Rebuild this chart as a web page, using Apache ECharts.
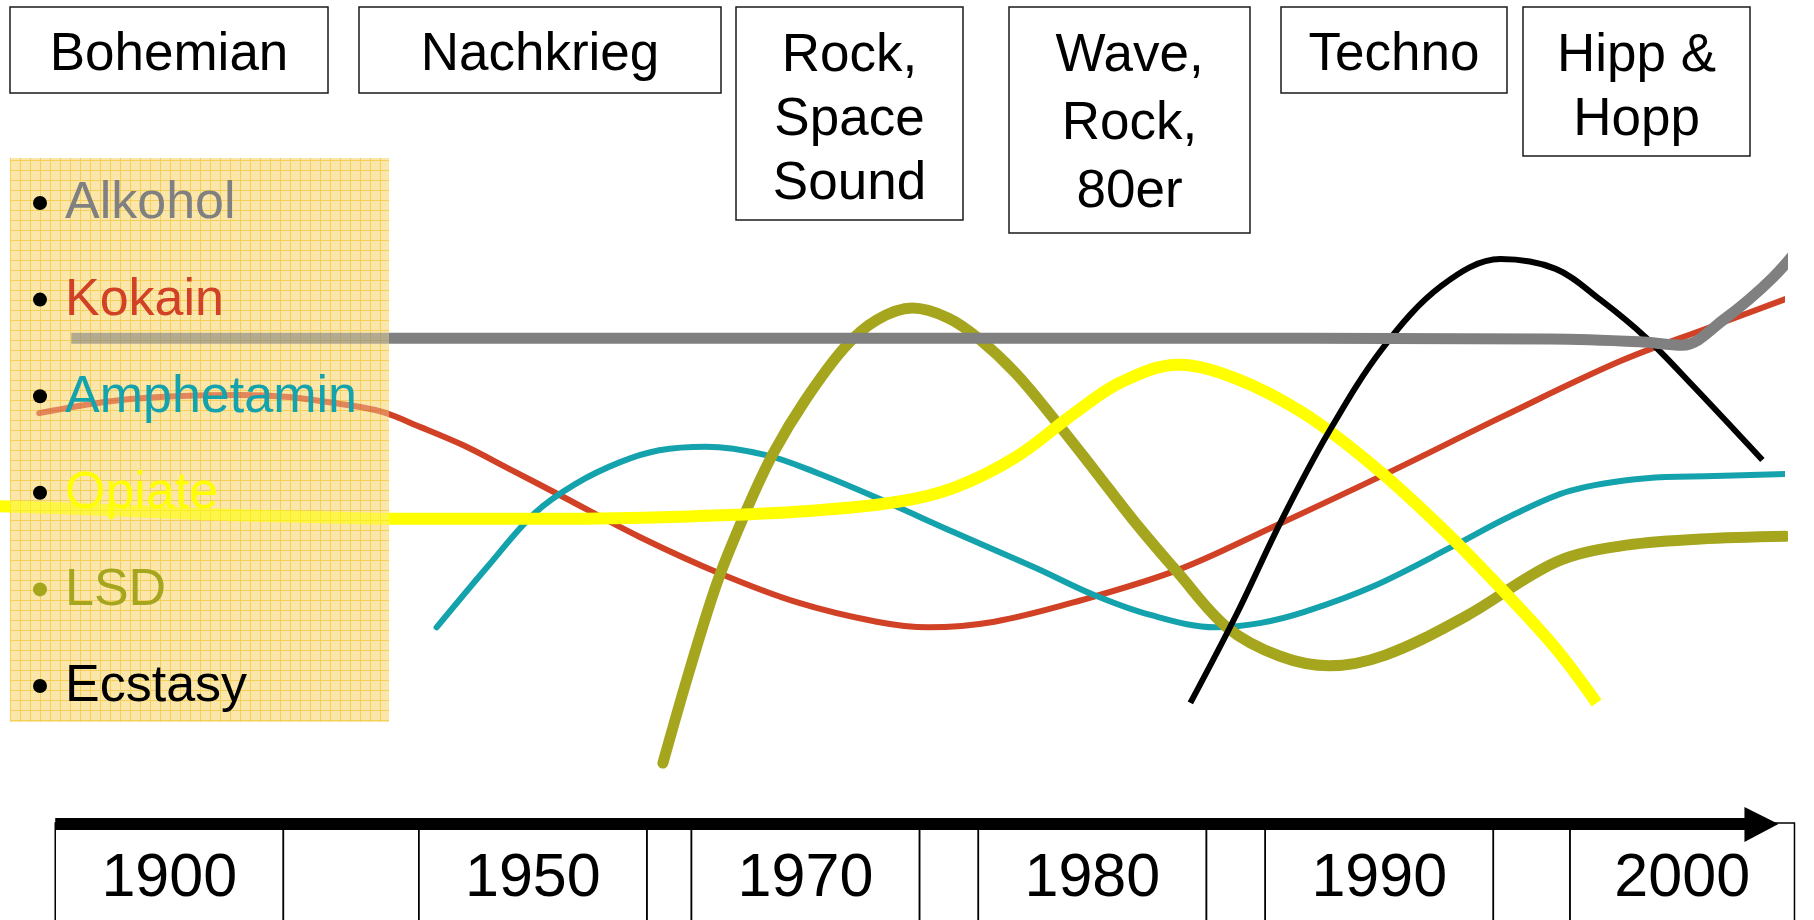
<!DOCTYPE html>
<html>
<head>
<meta charset="utf-8">
<script src="https://cdn.jsdelivr.net/npm/echarts@6.0.0/dist/echarts.min.js"></script>
<style>
  html, body { margin: 0; padding: 0; background: #fff; }
  #main { width: 1814px; height: 920px; }
</style>
</head>
<body>
<div id="main"></div>
<script>
'use strict'

// x: Position auf dem Zeitstrahl (0..100), y: Verbreitung (0..100)
const eras = ['Bohemian', 'Nachkrieg', 'Rock,\nSpace\nSound', 'Wave,\nRock,\n80er', 'Techno', 'Hipp &\nHopp'];
const drugs = ['Alkohol', 'Kokain', 'Amphetamin', 'Opiate', 'LSD', 'Ecstasy'];
const yearLabels = ['1900', '', '1950', '', '1970', '', '1980', '', '1990', '', '2000'];
const timelineEdges = [3.1, 15.9, 23.5, 36.3, 38.8, 51.6, 54.9, 67.7, 71.0, 83.8, 88.1, 100.7];
const timelineArrow = [3.1, 99.8];

const alkohol = [[4.0, 69.4], [30, 69.4], [60, 69.4], [87.0, 69.3], [92.0, 68.9], [94.4, 68.4],
    [96.7, 72.0], [99.5, 78.1], [101.5, 84.1]];
const kokain = [[2.2, 58.7], [6.2, 60.4], [9.8, 61.1], [13.5, 61.3], [16.2, 61.0], [19.1, 60.0],
    [21.4, 58.9], [23.6, 56.7], [26.0, 54.1], [28.6, 50.7], [31.4, 47.0], [35.9, 41.0],
    [40.3, 35.9], [44.7, 31.7], [49.2, 28.9], [52.1, 28.1], [55.8, 28.9], [60.3, 31.7],
    [66.1, 36.3], [71.4, 42.4], [78.0, 50.3], [84.4, 58.3], [90.9, 66.1], [96.0, 71.0], [100.3, 75.1]];
const amphetamin = [[24.5, 28.1], [27.4, 36.9], [30.0, 44.4], [32.3, 48.6], [34.8, 51.7], [37.0, 53.4],
    [39.6, 53.9], [43.0, 52.7], [45.9, 50.1], [49.2, 46.6], [53.6, 41.6], [58.1, 36.6],
    [61.4, 32.7], [64.5, 29.9], [68.2, 28.1], [70.7, 28.7], [73.2, 30.3], [77.1, 34.0],
    [81.7, 39.9], [84.7, 43.9], [88.1, 47.6], [92.4, 49.4], [96.2, 49.7], [100.2, 50.0]];
const opiate = [[0, 45.4], [5.6, 44.9], [11.2, 44.3], [16.8, 43.9], [22.5, 43.6], [31.4, 43.6],
    [38.1, 43.9], [44.7, 44.6], [50.3, 46.0], [53.6, 48.1], [57.0, 52.4], [60.3, 58.7],
    [62.9, 63.1], [66.1, 65.6], [69.4, 63.6], [73.2, 58.6], [77.1, 51.1], [80.9, 42.3],
    [84.7, 32.4], [87.3, 25.1], [89.6, 17.3]];
const lsd = [[37.2, 8.7], [38.7, 22.0], [40.3, 34.9], [41.9, 44.9], [43.4, 53.0], [45.2, 60.6],
    [47.4, 68.1], [49.2, 72.0], [51.2, 73.7], [53.2, 72.3], [54.9, 69.4], [57.0, 64.4],
    [59.2, 57.7], [61.4, 50.6], [63.6, 43.4], [66.1, 35.9], [68.9, 28.0], [71.8, 24.0],
    [74.6, 22.6], [77.7, 24.1], [82.2, 29.6], [87.3, 37.4], [90.9, 39.7], [95.4, 40.7], [100.2, 41.1]];
const ecstasy = [[66.8, 17.3], [69.4, 30.0], [71.9, 43.3], [74.5, 55.7], [77.6, 68.0], [80.9, 76.9],
    [84.2, 80.7], [87.3, 79.3], [89.8, 74.9], [92.4, 69.4], [95.0, 62.6], [98.9, 52.0]];

const drugColors = {
    Alkohol: '#808080', Kokain: '#d04125', Amphetamin: '#14a2ad',
    Opiate: '#ffff00', LSD: '#a6a61e', Ecstasy: '#000000'
};

const FONT = '"Liberation Sans", Arial, sans-serif';

let myChart = echarts.init(document.getElementById('main'));

// Karopapier-Muster für die Legende
function gridPattern() {
    let c = document.createElement('canvas');
    c.width = 10;
    c.height = 10;
    let ctx = c.getContext('2d');
    ctx.fillStyle = '#fbe4a2';
    ctx.fillRect(0, 0, 10, 10);
    ctx.fillStyle = '#fae9b3';
    for (let i = 0; i < 10; i++) {
        for (let j = 0; j < 10; j++) {
            if ((i + j) % 2 === 0) ctx.fillRect(i, j, 1, 1);
        }
    }
    ctx.fillStyle = '#f6cf58';
    ctx.fillRect(0, 0, 10, 1);
    ctx.fillRect(0, 0, 1, 10);
    return c;
}

function lineSeries(name, data, width, cap) {
    return {
        name,
        type: 'line',
        data,
        smooth: 0.35,
        showSymbol: false,
        clip: false,
        silent: true,
        z: 2,
        lineStyle: { color: drugColors[name], width, cap: cap || 'butt', join: 'round' }
    };
}

// Kästen oben: [x, y, w, h, Textmitte, Zeilenhöhe]
const eraLayout = [
    [10, 7, 318, 86, 55, 64],
    [359, 7, 362, 86, 55, 64],
    [736, 7, 227, 213, 120, 64],
    [1009, 7, 241, 226, 124, 68],
    [1281, 7, 226, 86, 55, 64],
    [1523, 7, 227, 149, 88, 64]
];

let graphics = [];
eras.forEach(function (text, i) {
    let b = eraLayout[i];
    graphics.push({
        type: 'rect', z: 20,
        shape: { x: b[0], y: b[1], width: b[2], height: b[3] },
        style: { fill: '#fff', stroke: '#1a1a1a', lineWidth: 1.5 }
    }, {
        type: 'text', z: 21,
        style: {
            text, x: b[0] + b[2] / 2, y: b[4], font: '53px ' + FONT, fill: '#000',
            textAlign: 'center', textVerticalAlign: 'middle', lineHeight: b[5]
        }
    });
});

let pattern = gridPattern();
graphics.push({
    type: 'rect', z: 0,
    shape: { x: 10, y: 158, width: 379, height: 564 },
    style: { fill: { image: pattern, repeat: 'repeat' } }
}, {
    type: 'rect', z: 10,
    shape: { x: 10, y: 158, width: 379, height: 564 },
    style: { fill: { image: pattern, repeat: 'repeat' }, opacity: 0.42 }
});
drugs.forEach(function (name, i) {
    let y = 203 + i * 96.6;
    graphics.push({
        type: 'circle', z: 11,
        shape: { cx: 40, cy: y, r: 7 },
        style: { fill: name === 'LSD' ? drugColors.LSD : '#000' }
    }, {
        type: 'text', z: 11,
        style: {
            text: name, x: 65, y: y + 1, font: '52px ' + FONT, fill: drugColors[name],
            textAlign: 'left', textVerticalAlign: 'middle'
        }
    });
});

let cells = [];
for (let i = 0; i < timelineEdges.length - 1; i++) {
    cells.push([timelineEdges[i], timelineEdges[i + 1]]);
}

myChart.setOption({
    backgroundColor: '#fff',
    animation: false,
    grid: { left: 0, right: 32, top: 124, bottom: 96 },
    xAxis: { type: 'value', min: 0, max: 100, show: false },
    yAxis: { type: 'value', min: 0, max: 100, show: false },
    graphic: graphics,
    series: [
        lineSeries('Kokain', kokain, 6, 'round'),
        lineSeries('Amphetamin', amphetamin, 6, 'round'),
        lineSeries('LSD', lsd, 11, 'round'),
        lineSeries('Opiate', opiate, 12),
        lineSeries('Ecstasy', ecstasy, 6),
        lineSeries('Alkohol', alkohol, 11),
        {
            type: 'custom',
            silent: true,
            z: 3,
            data: cells,
            renderItem: function (params, api) {
                let p0 = api.coord([api.value(0), 0]);
                let p1 = api.coord([api.value(1), 0]);
                return {
                    type: 'group',
                    children: [{
                        type: 'rect',
                        shape: { x: p0[0], y: p0[1] - 1, width: p1[0] - p0[0], height: 200 },
                        style: { fill: 'none', stroke: '#000', lineWidth: 1.5 }
                    }, {
                        type: 'text',
                        style: {
                            text: yearLabels[params.dataIndex],
                            x: (p0[0] + p1[0]) / 2, y: p0[1] + 55,
                            font: '61px ' + FONT, fill: '#000',
                            textAlign: 'center', textVerticalAlign: 'middle'
                        }
                    }]
                };
            }
        },
        {
            type: 'custom',
            silent: true,
            z: 4,
            data: [timelineArrow],
            renderItem: function (params, api) {
                let p0 = api.coord([api.value(0), 0]);
                let tip = api.coord([api.value(1), 0]);
                let base = tip[0] - 34;
                return {
                    type: 'group',
                    children: [{
                        type: 'rect',
                        shape: { x: p0[0], y: p0[1] - 6, width: base - p0[0] + 1, height: 12 },
                        style: { fill: '#000' }
                    }, {
                        type: 'polygon',
                        shape: { points: [[base, p0[1] - 17], [tip[0], p0[1]], [base, p0[1] + 18]] },
                        style: { fill: '#000' }
                    }]
                };
            }
        }
    ]
});
</script>
</body>
</html>
